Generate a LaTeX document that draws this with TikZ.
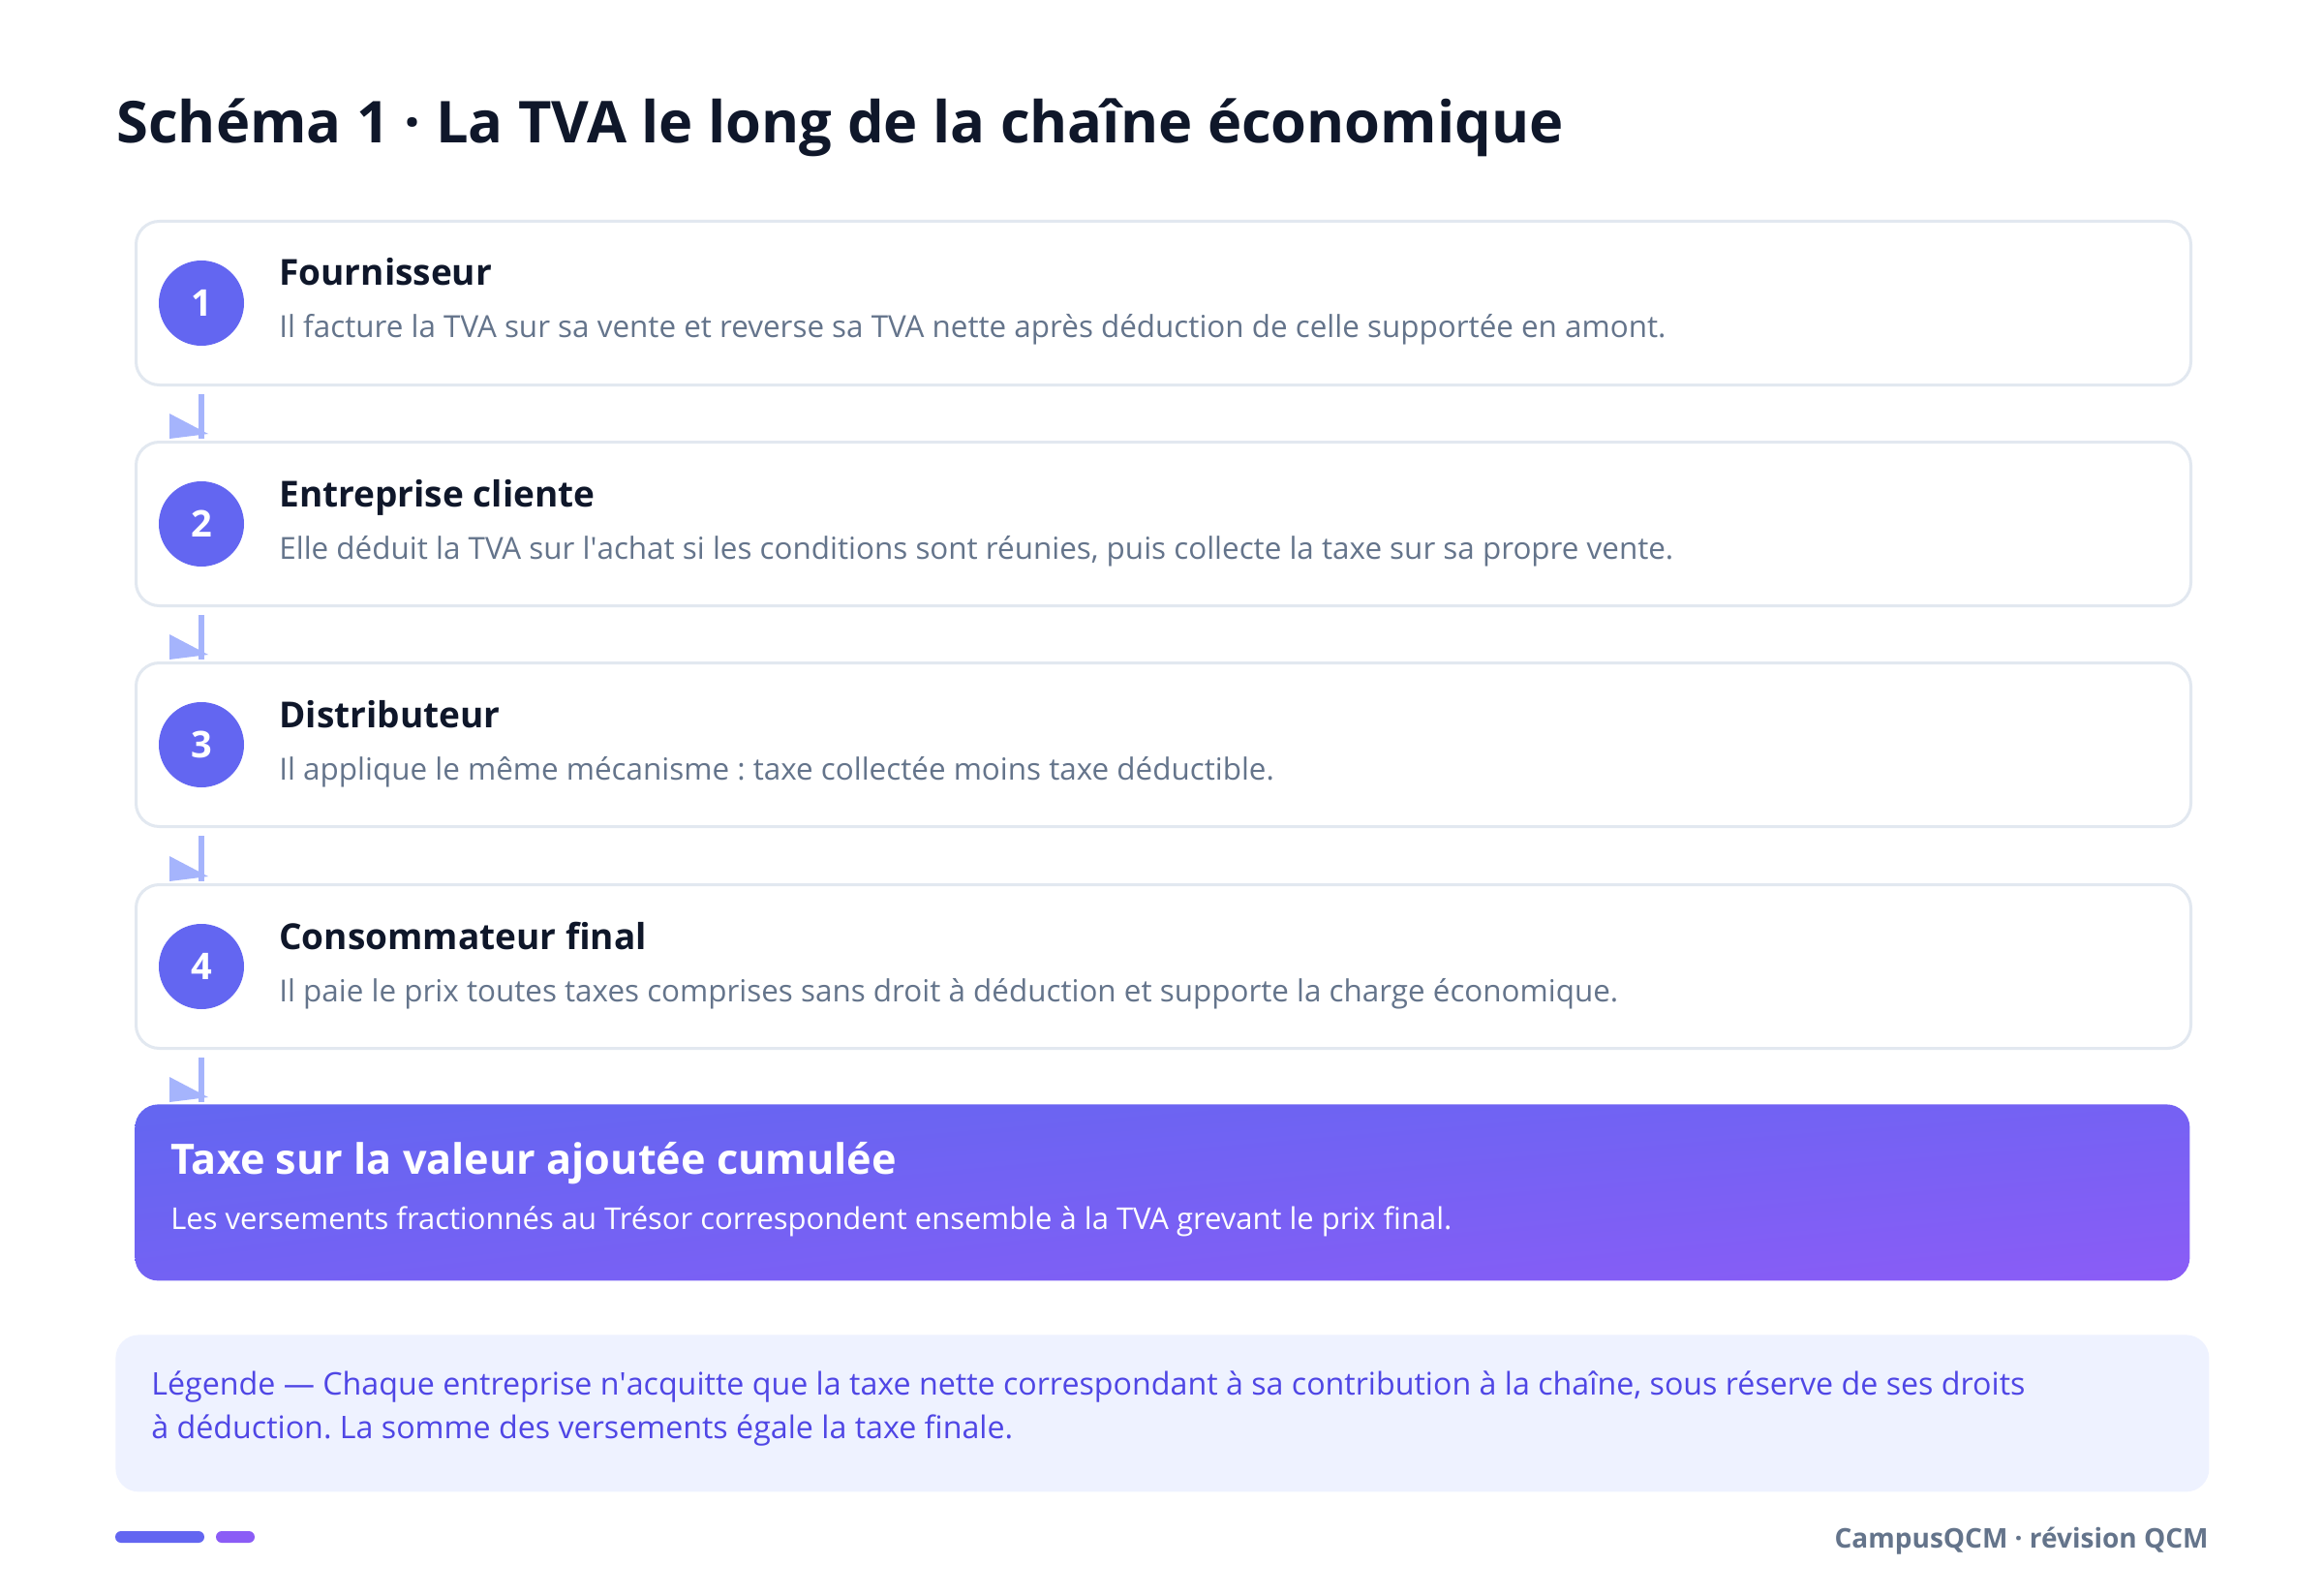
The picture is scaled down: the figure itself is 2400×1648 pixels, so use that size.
\documentclass[tikz,border=0pt]{standalone}
\usepackage{fontspec}
\setmainfont{Open Sans}
\frenchspacing
\usetikzlibrary{calc,shadings}

\definecolor{indigo}{HTML}{6366F1}
\definecolor{violet}{HTML}{8B5CF6}
\definecolor{arrowblue}{HTML}{A5B4FC}
\definecolor{boxline}{HTML}{E2E8F0}
\definecolor{ink}{HTML}{0F172A}
\definecolor{slate}{HTML}{64748B}
\definecolor{legendbg}{HTML}{EEF2FF}
\definecolor{legendink}{HTML}{4F46E5}

\tikzset{
	stepbox/.style={draw=boxline, line width=1.5pt, fill=white, rounded corners=12pt, minimum width=1061pt, minimum height=84.5pt, anchor=north west, inner sep=0pt},
	stepnum/.style={circle, fill=indigo, minimum size=44pt, inner sep=0pt, text=white, font=\fontsize{19}{22}\selectfont\bfseries},
	steptitle/.style={anchor=base west, inner sep=0pt, text=ink, font=\fontsize{18.5}{22}\selectfont\bfseries},
	steptext/.style={anchor=base west, inner sep=0pt, text=slate, font=\fontsize{15.7}{18}\selectfont},
	flowline/.style={draw=arrowblue, line width=3pt},
	flowhead/.style={fill=arrowblue},
	legendtext/.style={anchor=base west, inner sep=0pt, text=legendink, font=\fontsize{16.1}{19}\selectfont},
}

\begin{document}
\begin{tikzpicture}[x=0.5pt, y=-0.5pt]
		%%%%% START %%%%%
		\useasboundingbox (0,0) rectangle (2400,1648);
		\fill[white] (0,0) rectangle (2400,1648);
		
		\node[anchor=base west, inner sep=0pt, text=ink, font=\fontsize{29.8}{34}\selectfont\bfseries] (titre) at (120,148) {Schéma 1 · La TVA le long de la chaîne économique};
		
		\node[stepbox] (b1) at (139,227) {};
		\node[stepnum] (n1) at ($(b1.west)+(69,0)$) {1};
		\node[steptitle] (t1) at ($(b1.north west)+(149,68)$) {Fournisseur};
		\node[steptext] (d1) at ($(b1.north west)+(149,122)$) {Il facture la TVA sur sa vente et reverse sa TVA nette après déduction de celle supportée en amont.};
		
		\node[stepbox] (b2) at (139,455) {};
		\node[stepnum] (n2) at ($(b2.west)+(69,0)$) {2};
		\node[steptitle] (t2) at ($(b2.north west)+(149,68)$) {Entreprise cliente};
		\node[steptext] (d2) at ($(b2.north west)+(149,122)$) {Elle déduit la TVA sur l\textquotesingle achat si les conditions sont réunies, puis collecte la taxe sur sa propre vente.};
		
		\node[stepbox] (b3) at (139,683) {};
		\node[stepnum] (n3) at ($(b3.west)+(69,0)$) {3};
		\node[steptitle] (t3) at ($(b3.north west)+(149,68)$) {Distributeur};
		\node[steptext] (d3) at ($(b3.north west)+(149,122)$) {Il applique le même mécanisme : taxe collectée moins taxe déductible.};
		
		\node[stepbox] (b4) at (139,912) {};
		\node[stepnum] (n4) at ($(b4.west)+(69,0)$) {4};
		\node[steptitle] (t4) at ($(b4.north west)+(149,68)$) {Consommateur final};
		\node[steptext] (d4) at ($(b4.north west)+(149,122)$) {Il paie le prix toutes taxes comprises sans droit à déduction et supporte la charge économique.};
		
		\node[anchor=north west, minimum width=1061pt, minimum height=91pt, rounded corners=12pt, inner sep=0pt, upper left=indigo, upper right=indigo!55!violet, lower left=indigo!60!violet, lower right=violet] (total) at (139,1140) {};
		\node[anchor=base west, inner sep=0pt, text=white, font=\fontsize{21.6}{24}\selectfont\bfseries] (tt) at ($(total.north west)+(37,72)$) {Taxe sur la valeur ajoutée cumulée};
		\node[anchor=base west, inner sep=0pt, text=white, font=\fontsize{15.5}{18}\selectfont] (td) at ($(total.north west)+(37,129)$) {Les versements fractionnés au Trésor correspondent ensemble à la TVA grevant le prix final.};
		
		% fleches
		\draw[flowline] ($(n1 |- b1.south)+(0,8)$) -- ($(n1 |- b2.north)+(0,-2)$);
		\fill[flowhead] ($(n1 |- b2.north)+(-33,-28)$) -- ++(0,26) -- ($(n1 |- b2.north)+(7,-7)$) -- cycle;
		\draw[flowline] ($(n2 |- b2.south)+(0,8)$) -- ($(n2 |- b3.north)+(0,-2)$);
		\fill[flowhead] ($(n2 |- b3.north)+(-33,-28)$) -- ++(0,26) -- ($(n2 |- b3.north)+(7,-7)$) -- cycle;
		\draw[flowline] ($(n3 |- b3.south)+(0,8)$) -- ($(n3 |- b4.north)+(0,-2)$);
		\fill[flowhead] ($(n3 |- b4.north)+(-33,-28)$) -- ++(0,26) -- ($(n3 |- b4.north)+(7,-7)$) -- cycle;
		\draw[flowline] ($(n4 |- b4.south)+(0,8)$) -- ($(n4 |- total.north)+(0,-2)$);
		\fill[flowhead] ($(n4 |- total.north)+(-33,-28)$) -- ++(0,26) -- ($(n4 |- total.north)+(7,-7)$) -- cycle;
		
		% legende
		\node[anchor=north west, fill=legendbg, rounded corners=12pt, minimum width=1081pt, minimum height=81pt, inner sep=0pt] (legende) at (119,1378) {};
		\node[legendtext] (l1) at ($(legende.north west)+(37,62)$) {Légende — Chaque entreprise n\textquotesingle acquitte que la taxe nette correspondant à sa contribution à la chaîne, sous réserve de ses droits};
		\node[legendtext] (l2) at ($(legende.north west)+(37,107)$) {à déduction. La somme des versements égale la taxe finale.};
		
		% pied
		\fill[indigo, rounded corners=3pt] (119,1581) rectangle (211,1593);
		\fill[violet, rounded corners=3pt] (223,1581) rectangle (263,1593);
		\node[anchor=base east, inner sep=0pt, text=slate, font=\fontsize{14}{16}\selectfont\bfseries] (pied) at (2281,1598) {CampusQCM · révision QCM};
		%%%%% END %%%%%
\end{tikzpicture}
\end{document}
